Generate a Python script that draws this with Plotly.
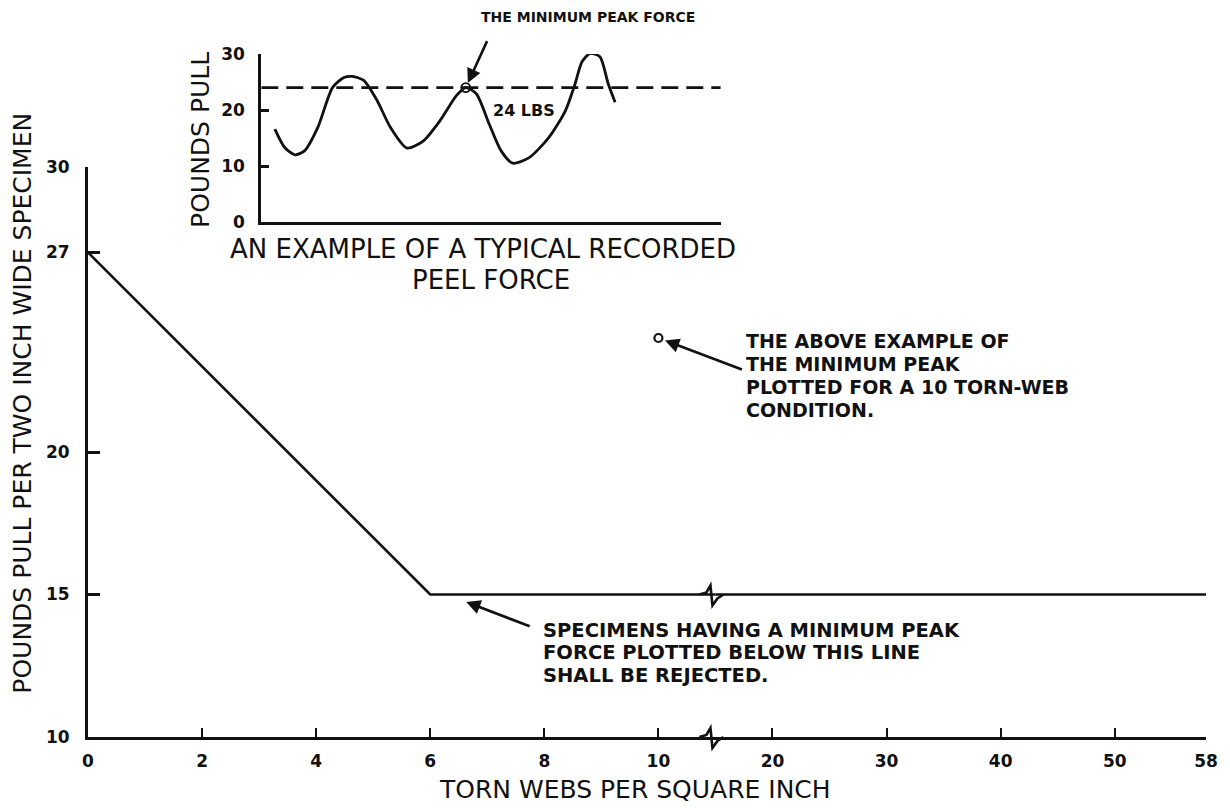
import plotly.graph_objects as go

# ---------------- data ----------------
# main chart: minimum acceptable peak pull vs torn webs
torn_webs = [0, 6, 58]
min_pull = [27, 15, 15]
x_ticks_left = [0, 2, 4, 6, 8, 10]
x_ticks_right = [20, 30, 40, 50, 58]
y_ticks = [10, 15, 20, 27, 30]
example_webs = [10]
example_peak = [24]
reject_level = 15
break_webs = 15  # where the x axis is broken (between 10 and 20)

# inset: typical recorded peel force (arbitrary time units)
inset_t = [2.95, 5.1, 7.3, 9.4, 12.3, 15.5, 18.0, 19.8, 22.3, 25.2, 28.1, 31.7, 35.3,
           38.9, 42.5, 44.5, 46.8, 49.6, 52.2, 54.7, 58.3, 62.6, 66.2, 68.3, 69.8,
           71.6, 73.7, 75.5, 77.0]
inset_f = [16.6, 13.3, 12.0, 12.7, 16.9, 24.0, 25.8, 26.0, 25.3, 21.7, 16.9, 13.2, 14.5,
           18.1, 22.6, 24.0, 22.9, 17.5, 12.7, 10.5, 11.5, 15.1, 19.9, 24.7, 28.6,
           30.1, 29.5, 24.7, 21.4]
inset_y_ticks = [0, 10, 20, 30]
threshold_t = [0, 100]
threshold_f = [24, 24]
min_peak_t = [44.5]
min_peak_f = [24]

note_right = ["THE ABOVE EXAMPLE OF", "THE MINIMUM PEAK",
              "PLOTTED FOR A 10 TORN-WEB", "CONDITION."]
note_bottom = ["SPECIMENS HAVING A MINIMUM PEAK", "FORCE PLOTTED BELOW THIS LINE",
               "SHALL BE REJECTED."]

# ---------------- layout helpers ----------------
W, H = 1230, 808
ML, MR, MT, MB = 88, 13, 40, 71
PW, PH = W - ML - MR, H - MT - MB


def px(x):
    return (x - ML) / PW


def py(y):
    return (H - MB - y) / PH


SPLIT = 5.5 / 9.8
MAIN_TOP = py(167)
Y_RANGE = [10, 30]
INK = "#111111"
REG = "DejaVu Sans"
BOLDTICK = dict(family=REG, size=17, color=INK, weight="bold")

fig = go.Figure()

line_style = dict(color=INK, width=2.6)
fig.add_trace(go.Scatter(x=torn_webs, y=min_pull, mode="lines", line=line_style,
                         xaxis="x", yaxis="y", showlegend=False, hoverinfo="skip"))
fig.add_trace(go.Scatter(x=torn_webs, y=min_pull, mode="lines", line=line_style,
                         xaxis="x2", yaxis="y", showlegend=False, hoverinfo="skip"))
fig.add_trace(go.Scatter(x=example_webs, y=example_peak, mode="markers",
                         marker=dict(symbol="circle-open", size=8, color=INK,
                                     line=dict(width=2.2, color=INK)),
                         xaxis="x", yaxis="y", showlegend=False, hoverinfo="skip"))

# inset traces
fig.add_trace(go.Scatter(x=threshold_t, y=threshold_f, mode="lines",
                         line=dict(color=INK, width=2.6, dash="17px,8px"),
                         xaxis="x3", yaxis="y3", showlegend=False, hoverinfo="skip"))
fig.add_trace(go.Scatter(x=inset_t, y=inset_f, mode="lines",
                         line=dict(color=INK, width=2.8, shape="spline", smoothing=0.7),
                         xaxis="x3", yaxis="y3", showlegend=False, hoverinfo="skip"))
fig.add_trace(go.Scatter(x=min_peak_t, y=min_peak_f, mode="markers",
                         marker=dict(symbol="circle-open", size=9, color=INK,
                                     line=dict(width=1.8, color=INK)),
                         xaxis="x3", yaxis="y3", showlegend=False, hoverinfo="skip"))

axis_common = dict(showgrid=False, zeroline=False, showline=True, linecolor=INK,
                   linewidth=3, ticks="inside", tickcolor=INK, tickfont=BOLDTICK)

fig.update_layout(
    width=W, height=H,
    margin=dict(l=ML, r=MR, t=MT, b=MB, pad=0),
    paper_bgcolor="white", plot_bgcolor="rgba(0,0,0,0)",
    xaxis=dict(domain=[0, SPLIT], range=[0, 11], tickvals=x_ticks_left,
               ticklen=9, tickwidth=2, anchor="y", ticklabelstandoff=7, **axis_common),
    xaxis2=dict(domain=[SPLIT, 1], range=[15, 58], tickvals=x_ticks_right,
                ticklen=9, tickwidth=2, anchor="y", ticklabelstandoff=7, **axis_common),
    yaxis=dict(domain=[0, MAIN_TOP], range=Y_RANGE, tickvals=y_ticks,
               ticklen=12, tickwidth=3, anchor="x", ticklabelstandoff=12, **axis_common),
    xaxis3=dict(domain=[px(263), px(727)], range=[0, 100], anchor="y3",
                showgrid=False, zeroline=False, showline=True, linecolor=INK,
                linewidth=3, showticklabels=False, ticks=""),
    yaxis3=dict(domain=[py(222), py(54)], range=[0, 30], tickvals=inset_y_ticks,
                ticklen=8, tickwidth=3, anchor="x3", ticklabelstandoff=10, **axis_common),
)

# break marks (zig-zags) on the reject line and on the x axis (paper refs -> not clipped)
zig = "M-16,0 L-9,2 L-5,9 L-3,-11 L2,-4 L8,0"
for yv in (reject_level, Y_RANGE[0]):
    yanchor_paper = (yv - Y_RANGE[0]) / (Y_RANGE[1] - Y_RANGE[0]) * MAIN_TOP
    fig.add_shape(type="path", xref="paper", yref="paper", xsizemode="pixel",
                  ysizemode="pixel", xanchor=SPLIT, yanchor=yanchor_paper, path=zig,
                  line=dict(color=INK, width=2.6))

ann = []


def text(t, x, y, size, bold=False, angle=0, xanchor="center"):
    f = dict(family=REG, size=size, color=INK)
    if bold:
        f["weight"] = "bold"
    ann.append(dict(text=t, x=px(x), y=py(y), xref="paper", yref="paper",
                    xanchor=xanchor, yanchor="middle", textangle=angle,
                    showarrow=False, font=f))


# axis titles
text("POUNDS PULL PER TWO INCH WIDE SPECIMEN", 22, 403, 25, angle=-90)
text("TORN WEBS PER SQUARE INCH", 640, 790, 25)
# inset titles
text("POUNDS PULL", 202, 140, 25, angle=-90)
text("AN EXAMPLE OF A TYPICAL RECORDED", 487, 249, 26)
text("PEEL FORCE", 495, 280, 26)
# inset labels
text("THE MINIMUM PEAK FORCE", 483, 17, 14, bold=True, xanchor="left")
text("24 LBS", 495, 110, 16, bold=True, xanchor="left")
# notes
for i, line in enumerate(note_right):
    text(line, 750, 341 + 23 * i, 19, bold=True, xanchor="left")
for i, line in enumerate(note_bottom):
    text(line, 545, 630 + 22.5 * i, 19.5, bold=True, xanchor="left")

# arrows
arrow = dict(text="", showarrow=True, arrowhead=2, arrowsize=1.1, arrowwidth=2.6,
             arrowcolor=INK)
ann.append(dict(x=min_peak_t[0], y=min_peak_f[0], xref="x3", yref="y3", ax=22, ay=-48,
                standoff=5, **arrow))
ann.append(dict(x=example_webs[0], y=example_peak[0], xref="x", yref="y", ax=85, ay=32,
                standoff=7, **arrow))
ann.append(dict(x=6.63, y=14.74, xref="x", yref="y", ax=65, ay=25, standoff=0, **arrow))

fig.update_layout(annotations=ann)

fig.write_html("out.html")
